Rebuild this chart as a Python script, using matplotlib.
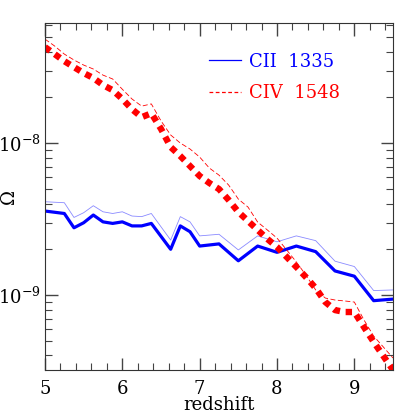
import matplotlib
matplotlib.use("Agg")
import matplotlib.pyplot as plt
from matplotlib.lines import Line2D
from matplotlib.ticker import LogLocator, NullFormatter, MultipleLocator

plt.rcParams['font.family'] = ['DejaVu Serif']
plt.rcParams['mathtext.fontset'] = 'dejavuserif'

# CII 1335 (units of 1e-9)
z_c2 = [5.0, 5.25, 5.375, 5.5, 5.625, 5.75, 5.875, 6.0, 6.125, 6.25, 6.375,
        6.625, 6.75, 6.875, 7.0, 7.25, 7.5, 7.75, 8.0, 8.25, 8.5, 8.75, 9.0, 9.25, 9.5]
c2_thick = [3.57, 3.44, 2.77, 2.99, 3.36, 3.03, 2.96, 3.03, 2.85, 2.85, 2.96,
            2.00, 2.85, 2.61, 2.10, 2.17, 1.68, 2.10, 1.91, 2.10, 1.93, 1.44, 1.33, 0.918, 0.94]
c2_thin = [4.11, 4.05, 3.24, 3.48, 3.87, 3.53, 3.44, 3.53, 3.31, 3.28, 3.44,
           2.30, 3.28, 3.03, 2.45, 2.51, 1.98, 2.45, 2.24, 2.45, 2.28, 1.67, 1.54, 1.07, 1.08]

# CIV 1548 (units of 1e-9)
z_c4 = [5.0, 5.125, 5.25, 5.375, 5.5, 5.625, 5.75, 5.875, 6.0, 6.125, 6.25, 6.375,
        6.5, 6.625, 6.75, 6.875, 7.0, 7.125, 7.25, 7.375, 7.5, 7.625, 7.75, 7.875,
        8.0, 8.125, 8.25, 8.375, 8.5, 8.625, 8.75, 8.875, 9.0, 9.125, 9.25, 9.375, 9.5]
c4_thick = [42.8, 38.5, 34.6, 31.6, 28.9, 26.8, 24.1, 22.3, 19.5, 16.7, 14.8, 15.7,
            12.4, 9.41, 8.21, 7.06, 6.07, 5.46, 4.98, 4.22, 3.52, 3.07, 2.68, 2.34,
            2.07, 1.78, 1.53, 1.31, 1.11, 0.899, 0.796, 0.773, 0.773, 0.615, 0.491, 0.397, 0.321]
c4_thin = [48.3, 43.5, 38.5, 35.2, 32.6, 30.7, 28.0, 26.4, 22.6, 19.5, 17.5, 18.1,
           14.0, 11.3, 10.0, 9.14, 8.09, 6.85, 6.15, 5.29, 4.28, 3.79, 3.02, 2.68,
           2.37, 1.98, 1.65, 1.35, 1.08, 0.955, 0.927, 0.914, 0.899, 0.685, 0.537, 0.455, 0.385]

scale = 1e-9

fig = plt.figure(figsize=(4.15, 4.15), dpi=100)
ax = fig.add_axes([0.1084, 0.1084, 0.8386, 0.836])

ax.plot(z_c2, [v * scale for v in c2_thin], color='#8a8aff', lw=0.6)
ax.plot(z_c2, [v * scale for v in c2_thick], color='#0000ff', lw=2.3)
ax.plot(z_c4, [v * scale for v in c4_thin], color='#ff0000', lw=0.6, ls=(0, (6, 3)))
ax.plot(z_c4, [v * scale for v in c4_thick], color='#ff0000', lw=4.6,
        ls=(0, (1, 0.9)), dash_capstyle='butt')

ax.set_yscale('log')
ax.set_xlim(5, 9.5)
ax.set_ylim(3.21e-10, 6.16e-8)

ax.xaxis.set_major_locator(MultipleLocator(1))
ax.xaxis.set_minor_locator(MultipleLocator(0.2))
ax.yaxis.set_major_locator(LogLocator(base=10))
ax.yaxis.set_minor_locator(LogLocator(base=10, subs=range(2, 10)))
ax.yaxis.set_minor_formatter(NullFormatter())

ax.tick_params(which='both', direction='in', top=True, right=True,
               color='#444444', labelsize=13)
ax.tick_params(which='major', length=9, width=1)
ax.tick_params(which='minor', length=5, width=0.8)
ax.tick_params(axis='x', pad=7)
ax.tick_params(axis='y', pad=3)
for s in ax.spines.values():
    s.set_color('#333333')

ax.set_xlabel('redshift', fontsize=13, labelpad=-1)
ax.set_ylabel('Ω', fontsize=13)
ax.yaxis.set_label_coords(-0.078, 0.5)

handles = [Line2D([], [], color='#0000ff', lw=0.9),
           Line2D([], [], color='#ff0000', lw=0.9, ls=(0, (3, 2)))]
leg = ax.legend(handles, ['CII  1335', 'CIV  1548'], loc='upper left',
                bbox_to_anchor=(0.426, 0.962), frameon=False, fontsize=13,
                handlelength=1.75, handletextpad=0.45, labelspacing=0.75)
for t, c in zip(leg.get_texts(), ['#0000ff', '#ff0000']):
    t.set_color(c)

fig.savefig('out.png', dpi=100)
